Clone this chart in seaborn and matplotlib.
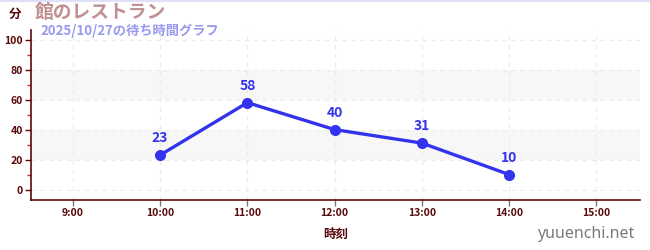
import matplotlib
matplotlib.use("Agg")
import matplotlib.pyplot as plt
import seaborn as sns
import pandas as pd

hours = [10, 11, 12, 13, 14]
waits = [23, 58, 40, 31, 10]
tick_hours = [9, 10, 11, 12, 13, 14, 15]
tick_labels = ["9:00", "10:00", "11:00", "12:00", "13:00", "14:00", "15:00"]
title = "館のレストラン"
subtitle = "2025/10/27の待ち時間グラフ"
xlabel = "時刻"
ylabel = "分"
watermark = "yuuenchi.net"

sns.set_theme(style="white")
plt.rcParams['font.family'] = ['Noto Sans CJK JP', 'DejaVu Sans']

df = pd.DataFrame({"hour": hours, "wait": waits})

fig = plt.figure(figsize=(6.5, 2.5), dpi=100)
ax = fig.add_axes([31/650, 50/250, 609/650, 170/250])

dark = "#5a0a0a"
line_c = "#3333ee"

for lo, hi in [(20, 40), (60, 80)]:
    ax.axhspan(lo, hi, color="#f7f7f7", zorder=0, lw=0)

sns.lineplot(data=df, x="hour", y="wait", ax=ax, color=line_c, lw=2.4,
             marker="o", markersize=8, markeredgewidth=0, zorder=3)

for h, w in zip(hours, waits):
    ax.annotate(str(w), (h, w), xytext=(0, 7), textcoords="offset points",
                ha="center", va="bottom", color=line_c, fontsize=10,
                fontweight="bold")

ax.set_xlim(8.52, 15.5)
ax.set_ylim(-7, 106.5)
ax.set_xticks(tick_hours)
ax.set_xticklabels(tick_labels)
ax.set_yticks([0, 20, 40, 60, 80, 100])
ax.set_yticks([10, 30, 50, 70, 90], minor=True)
ax.grid(True, which="major", ls=(0, (4, 4)), color="#ebebeb", lw=0.8)
ax.set_axisbelow(True)

for s in ["top", "right"]:
    ax.spines[s].set_visible(False)
for s in ["left", "bottom"]:
    ax.spines[s].set_color(dark)
    ax.spines[s].set_linewidth(1.2)

ax.tick_params(axis="both", which="major", length=4, width=1, color=dark,
               labelcolor=dark, labelsize=7.5, pad=2, left=True, bottom=True)
ax.tick_params(axis="y", which="minor", length=3, width=1, color="#dd2222", left=True)
ax.tick_params(axis="x", which="major", color="#777777")
for lbl in ax.get_xticklabels() + ax.get_yticklabels():
    lbl.set_fontweight("bold")

ax.set_xlabel(xlabel, color=dark, fontsize=9, fontweight="bold", labelpad=7)
ax.set_ylabel("")

fig.text(15/650, 1 - 14/250, ylabel, color=dark, fontsize=9, fontweight="bold",
         ha="center", va="center")
fig.text(35/650, 1 - 13/250, title, color="#c09090", fontsize=13.5, fontweight="bold",
         ha="left", va="center")
fig.text(40/650, 1 - 31/250, subtitle, color="#9999ee", fontsize=9.5, fontweight="bold",
         ha="left", va="center")
fig.text(634/650, 1 - 234/250, watermark, color="#7a7a7a", fontsize=11.5,
         ha="right", va="center", family=["Noto Sans", "DejaVu Sans"])
fig.add_artist(plt.Line2D([0, 1], [0.998, 0.998], color="#e0e0f8", lw=1.5,
                          transform=fig.transFigure))

fig.savefig("out.png", dpi=100)
